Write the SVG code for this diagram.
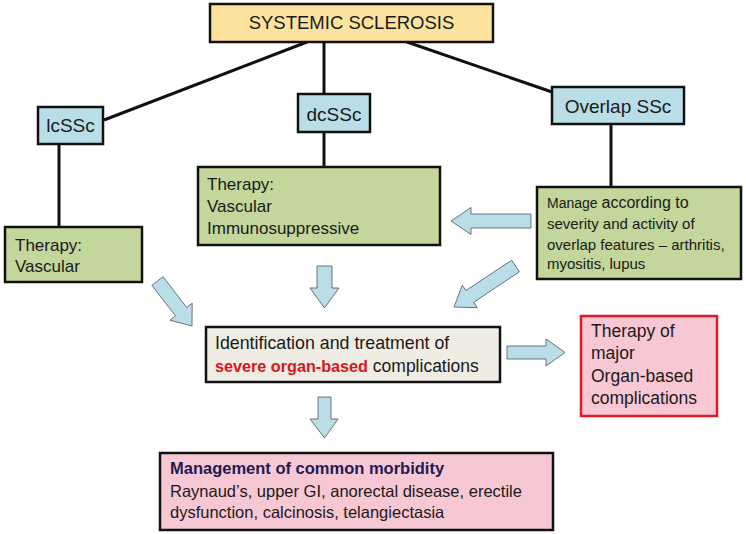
<svg xmlns="http://www.w3.org/2000/svg" width="746" height="534" viewBox="0 0 746 534">
<style>
  text { font-family: "Liberation Sans", Arial, sans-serif; fill: #1a1a1a; }
  .box { stroke: #111; stroke-width: 2.5; }
  .title { fill: #fbe39d; }
  .blue { fill: #b9dee8; }
  .green { fill: #c3d69b; }
  .beige { fill: #eeece3; }
  .pink { fill: #f8c7d4; }
  .redbox { fill: #f8c7d4; stroke: #e01b24; stroke-width: 2.5; }
  .line { stroke: #111; stroke-width: 3; fill: none; }
  .arrow { fill: #b9dee8; stroke: #4a5560; stroke-width: 0.8; stroke-linejoin: miter; }
  .hd { font-size: 19px; }
  .t17 { font-size: 17px; }
  .t15 { font-size: 15px; }
</style>
<rect width="746" height="534" fill="#ffffff"/>

<g id="connectors">
  <line class="line" x1="307" y1="42" x2="104" y2="120"/>
  <line class="line" x1="324" y1="42" x2="324" y2="94"/>
  <line class="line" x1="407" y1="42" x2="552" y2="92"/>
  <line class="line" x1="59" y1="144" x2="59" y2="227"/>
  <line class="line" x1="324" y1="132" x2="324" y2="167"/>
  <line class="line" x1="611" y1="124" x2="611" y2="187"/>
  <polygon class="arrow" points="531,214 471,214 471,207.5 451,221 471,234.5 471,228 531,228"/>
  <polygon class="arrow" points="317,266 332,266 332,288 339,288 324.5,308 310,288 317,288"/>
  <polygon class="arrow" points="318,397 331,397 331,419 338,419 324.5,438 310,419 318,419"/>
  <polygon class="arrow" points="507,346 546,346 546,339 565,352.5 546,366 546,359 507,359"/>
  <polygon class="arrow" points="151.9,285.3 175.5,316 169.9,320.2 192,326 192.2,303.2 186.6,307.5 163.1,276.7"/>
  <polygon class="arrow" points="511.6,260.2 465.9,290.6 462.3,285.2 454,307 477.3,307.7 473.7,302.3 519.4,271.8"/>
</g>

<g id="systemic-sclerosis">
  <rect class="box title" x="210" y="4" width="283" height="38"/>
  <text x="351.5" y="29" font-size="18.5" text-anchor="middle">SYSTEMIC SCLEROSIS</text>
</g>

<g id="lcssc">
  <rect class="box blue" x="38" y="107" width="65" height="37"/>
  <text class="hd" x="70.5" y="132" text-anchor="middle">lcSSc</text>
</g>

<g id="dcssc">
  <rect class="box blue" x="298" y="94" width="72" height="38"/>
  <text class="hd" x="334" y="121" text-anchor="middle">dcSSc</text>
</g>

<g id="overlap-ssc">
  <rect class="box blue" x="552" y="87" width="132" height="37"/>
  <text class="hd" x="618" y="113" text-anchor="middle">Overlap SSc</text>
</g>

<g id="therapy-vascular">
  <rect class="box green" x="5" y="227" width="137" height="55"/>
  <text class="t17" x="15" y="251">Therapy:</text>
  <text class="t17" x="15" y="272">Vascular</text>
</g>

<g id="therapy-vascular-immuno">
  <rect class="box green" x="198" y="167" width="242" height="78"/>
  <text class="t17" x="207" y="190">Therapy:</text>
  <text class="t17" x="207" y="212">Vascular</text>
  <text class="t17" x="207" y="234">Immunosuppressive</text>
</g>

<g id="manage-overlap">
  <rect class="box green" x="537" y="187" width="204" height="92"/>
  <text x="547" y="208"><tspan font-size="14">Manage </tspan><tspan font-size="16">according to</tspan></text>
  <text class="t15" x="547" y="229">severity and activity of</text>
  <text class="t15" x="547" y="250">overlap features – arthritis,</text>
  <text class="t15" x="547" y="269">myositis, lupus</text>
</g>

<g id="identification">
  <rect class="box beige" x="206" y="327" width="294" height="55"/>
  <text x="215" y="349" font-size="17.8">Identification and treatment of</text>
  <text x="215" y="372" font-size="17.5"><tspan font-weight="bold" font-size="16.2" style="fill:#dc1420">severe organ-based</tspan> complications</text>
</g>

<g id="therapy-major">
  <rect class="redbox" x="581" y="316" width="136" height="100"/>
  <text x="591" y="337" font-size="17.5">Therapy of</text>
  <text x="591" y="359" font-size="17.5">major</text>
  <text x="591" y="382" font-size="17.5">Organ-based</text>
  <text x="591" y="404" font-size="17.5">complications</text>
</g>

<g id="management">
  <rect class="box pink" x="160" y="453" width="393" height="77"/>
  <text x="170" y="474" font-size="16.5" font-weight="bold" style="fill:#1c1c54">Management of common morbidity</text>
  <text x="170" y="497" font-size="16.5">Raynaud’s, upper GI, anorectal disease, erectile</text>
  <text x="170" y="518" font-size="16.5">dysfunction, calcinosis, telangiectasia</text>
</g>
</svg>
